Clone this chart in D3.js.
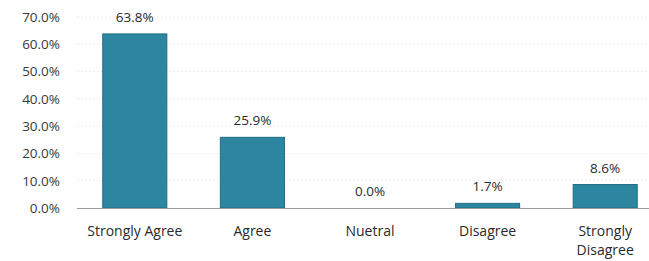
<!DOCTYPE html>
<html><head><meta charset="utf-8">
<script src="https://cdn.jsdelivr.net/npm/d3@7"></script>
<style>body{margin:0;background:#fff;}svg{display:block;}</style>
</head><body>
<svg id="c" width="649" height="261"></svg>
<script>
const categories = ["Strongly Agree", "Agree", "Nuetral", "Disagree", "Strongly Disagree"];
const values = [63.8, 25.9, 0.0, 1.7, 8.6];
const yTicks = [0, 10, 20, 30, 40, 50, 60, 70];

const svg = d3.select("#c");
const font = "'Open Sans', sans-serif";
const x = d3.scaleBand().domain(categories).range([76, 664]).paddingInner(0.455).paddingOuter(0.2275);
const y = d3.scaleLinear().domain([0, 70]).range([208, 17]);

// faint gridlines
svg.append("g").selectAll("line").data(yTicks.filter(d => d > 0)).join("line")
  .attr("x1", 77).attr("x2", 649)
  .attr("y1", d => y(d)).attr("y2", d => y(d))
  .attr("stroke", "#ececec").attr("stroke-width", 1).attr("stroke-dasharray", "2,2");

// y axis labels
const yAxis = d3.axisLeft(y).tickValues(yTicks).tickSize(0).tickPadding(0)
  .tickFormat(d => d.toFixed(1) + "%");
const gy = svg.append("g").attr("transform", "translate(60,0)").call(yAxis);
gy.select(".domain").remove();
gy.selectAll("text").attr("font-family", font).attr("font-size", 13.5).attr("fill", "#3a3a3a");

// bars
svg.append("g").selectAll("rect").data(values).join("rect")
  .attr("x", (d, i) => x(categories[i]))
  .attr("width", x.bandwidth())
  .attr("y", d => y(d))
  .attr("height", d => y(0) - y(d))
  .attr("fill", "#2d86a0").attr("stroke", "#1f6d85").attr("stroke-width", 1);

// baseline
svg.append("line").attr("x1", 77).attr("x2", 649).attr("y1", y(0) + 0.5).attr("y2", y(0) + 0.5)
  .attr("stroke", "#9a9a9a").attr("stroke-width", 1.2);

// value labels
svg.append("g").selectAll("text").data(values).join("text")
  .attr("x", (d, i) => x(categories[i]) + x.bandwidth() / 2)
  .attr("y", d => y(d) - 12)
  .attr("text-anchor", "middle")
  .attr("font-family", font).attr("font-size", 13.5).attr("fill", "#2a2a2a")
  .text(d => d.toFixed(1) + "%");

// category labels
const gx = svg.append("g");
categories.forEach((c, i) => {
  const t = gx.append("text")
    .attr("x", x(c) + x.bandwidth() / 2)
    .attr("y", 236)
    .attr("text-anchor", "middle")
    .attr("font-family", font).attr("font-size", 14).attr("fill", "#2a2a2a");
  const lines = c === "Strongly Disagree" ? ["Strongly", "Disagree"] : [c];
  lines.forEach((l, j) => {
    t.append("tspan").attr("x", x(c) + x.bandwidth() / 2).attr("dy", j === 0 ? 0 : 19).text(l);
  });
});
</script>
</body></html>
